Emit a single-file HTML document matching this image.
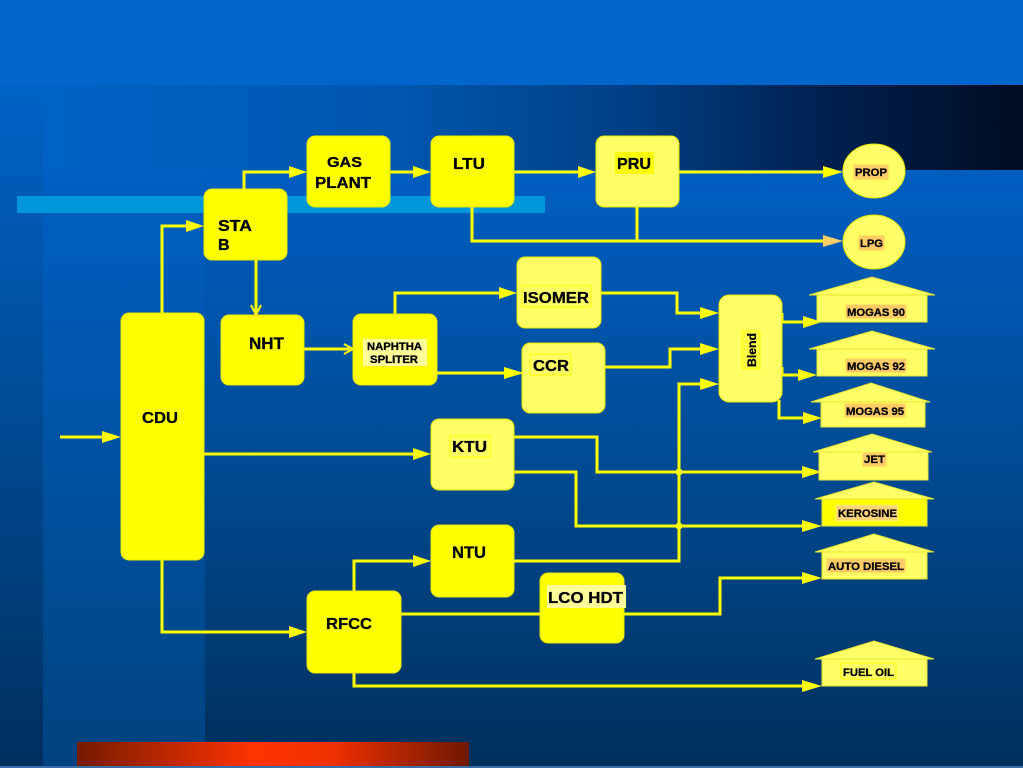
<!DOCTYPE html>
<html><head><meta charset="utf-8"><style>
html,body{margin:0;padding:0;background:#0066cc;}
svg{display:block;}
text{font-family:"Liberation Sans",Arial,sans-serif;font-weight:bold;fill:#000;stroke:#000;stroke-width:0.3px;}
</style></head><body>
<svg width="1023" height="768" viewBox="0 0 1023 768" xmlns="http://www.w3.org/2000/svg">
<defs>
<linearGradient id="band" x1="0" y1="0" x2="1" y2="0">
<stop offset="0" stop-color="#0062c6"/><stop offset="0.35" stop-color="#0057b0"/><stop offset="0.6" stop-color="#003f85"/><stop offset="0.8" stop-color="#002050"/><stop offset="1" stop-color="#000c22"/>
</linearGradient>
<linearGradient id="main" x1="0" y1="0" x2="0" y2="1">
<stop offset="0" stop-color="#005ec2"/><stop offset="0.5" stop-color="#004a93"/><stop offset="1" stop-color="#002f5c"/>
</linearGradient>
<linearGradient id="strip" x1="0" y1="0" x2="0" y2="1">
<stop offset="0" stop-color="#005fc3"/><stop offset="0.5" stop-color="#0052a2"/><stop offset="1" stop-color="#00427f"/>
</linearGradient>
<linearGradient id="left" x1="0" y1="0" x2="0" y2="1">
<stop offset="0" stop-color="#0062c6"/><stop offset="0.5" stop-color="#004a93"/><stop offset="1" stop-color="#002f5e"/>
</linearGradient>
<linearGradient id="red" x1="0" y1="0" x2="1" y2="0">
<stop offset="0" stop-color="#761a00"/><stop offset="0.45" stop-color="#ff3300"/><stop offset="0.65" stop-color="#f03000"/><stop offset="1" stop-color="#6e1800"/>
</linearGradient>
</defs>

<!-- background -->
<rect x="0" y="0" width="1023" height="85" fill="#0066cc"/>
<rect x="0" y="85" width="43" height="683" fill="url(#left)"/>
<rect x="43" y="85" width="980" height="85" fill="url(#band)"/>
<rect x="205" y="170" width="818" height="598" fill="url(#main)"/>
<rect x="43" y="170" width="162" height="598" fill="url(#strip)"/>
<rect x="17" y="196" width="528" height="17" fill="#0096dc"/>
<rect x="77" y="742" width="392" height="26" fill="url(#red)"/>
<rect x="0" y="766" width="1023" height="2" fill="#3a6ea8"/>

<!-- connectors -->
<g fill="none" stroke="#ffff00" stroke-width="3" stroke-linejoin="miter">
<path d="M60,437 H110"/>
<path d="M162,313 V226 H192"/>
<path d="M244,189 V172 H295"/>
<path d="M390,172 H420"/>
<path d="M514,172 H584"/>
<path d="M679,172 H830"/>
<path d="M472,207 V241 H830"/>
<path d="M637,207 V241"/>
<path d="M256,260 V312"/>
<path d="M304,349 H350"/>
<path d="M395,314 V293 H505"/>
<path d="M437,373 H510"/>
<path d="M601,293 H677 V313 H705"/>
<path d="M605,367 H670 V349 H705"/>
<path d="M514,561 H679 V384 H705"/>
<path d="M204,454 H418"/>
<path d="M514,437 H597 V472 H808"/>
<path d="M514,472 H576 V526 H808"/>
<path d="M162,560 V632 H294"/>
<path d="M354,591 V561 H418"/>
<path d="M401,614 H540"/>
<path d="M624,614 H720 V578 H808"/>
<path d="M354,673 V686 H808"/>
<path d="M782,313 V322 H808"/>
<path d="M782,367 V375 H805"/>
<path d="M779,400 V418 H808"/>
</g>
<g fill="#ffff00">
<polygon points="102,431 121,437 102,443"/>
<polygon points="186,220 204,226 186,232"/>
<polygon points="289,166 307,172 289,178"/>
<polygon points="413,166 431,172 413,178"/>
<polygon points="578,166 596,172 578,178"/>
<polygon points="823,166 843,172 823,178"/>
<polygon points="499,287 517,293 499,299"/>
<polygon points="504,367 524,373 504,379"/>
<polygon points="700,307 719,313 700,319"/>
<polygon points="700,343 719,349 700,355"/>
<polygon points="700,378 719,384 700,390"/>
<polygon points="413,448 431,454 413,460"/>
<polygon points="802,466 822,472 802,478"/>
<polygon points="802,520 822,526 802,532"/>
<polygon points="289,626 307,632 289,638"/>
<polygon points="413,555 431,561 413,567"/>
<polygon points="802,572 822,578 802,584"/>
<polygon points="802,680 822,686 802,692"/>
<polygon points="803,316 822,322 803,328"/>
<polygon points="798,369 817,375 798,381"/>
<polygon points="803,412 822,418 803,424"/>
<circle cx="679" cy="472" r="3.5"/>
<circle cx="679" cy="526" r="3.5"/>
</g>
<polygon points="823,235 843,241 823,247" fill="#ffcc66"/>
<g fill="none" stroke="#ffff00" stroke-width="2">
<polyline points="251,305 256,315 261,305"/>
<polyline points="344,344 353,349 344,354"/>
</g>

<!-- nodes -->
<g stroke="#e8e800" stroke-width="1">
<rect x="121" y="313" width="83" height="247" rx="8" fill="#ffff00"/>
<rect x="204" y="189" width="83" height="71" rx="8" fill="#ffff00"/>
<rect x="307" y="136" width="83" height="71" rx="8" fill="#ffff00"/>
<rect x="431" y="136" width="83" height="71" rx="8" fill="#ffff00"/>
<rect x="596" y="136" width="83" height="71" rx="8" fill="#ffff66"/>
<rect x="221" y="315" width="83" height="70" rx="8" fill="#ffff00"/>
<rect x="353" y="314" width="84" height="71" rx="8" fill="#ffff00"/>
<rect x="517" y="257" width="84" height="71" rx="8" fill="#ffff66"/>
<rect x="522" y="343" width="83" height="70" rx="8" fill="#ffff66"/>
<rect x="431" y="419" width="83" height="71" rx="8" fill="#ffff66"/>
<rect x="431" y="525" width="83" height="72" rx="8" fill="#ffff00"/>
<rect x="307" y="591" width="94" height="82" rx="8" fill="#ffff00"/>
<rect x="540" y="573" width="84" height="70" rx="8" fill="#ffff00"/>
<rect x="719" y="295" width="63" height="107" rx="10" fill="#ffff66"/>
<ellipse cx="874" cy="171" rx="31" ry="27" fill="#ffff66"/>
<ellipse cx="874" cy="242" rx="31" ry="27" fill="#ffff66"/>
</g>

<!-- houses -->
<g stroke="#e6e633" stroke-width="1" fill="#ffff66">
<polygon points="809,295 872,277 935,295"/><rect x="817" y="295" width="110" height="27"/>
<polygon points="809,349 872,331 935,349"/><rect x="817" y="349" width="110" height="27"/>
<polygon points="811,402 871,383 930,402"/><rect x="821" y="402" width="104" height="25"/>
<polygon points="813,452 872,434 932,452"/><rect x="819" y="452" width="109" height="28"/>
<polygon points="815,499 874,482 934,499"/><rect x="822" y="499" width="105" height="27" fill="#ffff00"/>
<polygon points="815,552 874,534 934,552"/><rect x="822" y="552" width="105" height="27"/>
<polygon points="815,659 874,641 934,659"/><rect x="822" y="659" width="105" height="27"/>
</g>

<!-- label highlights -->
<rect x="615" y="152" width="39" height="22" fill="#ffff00"/>
<rect x="853" y="164" width="36" height="16" fill="#ffcc66" stroke="#ffff55" stroke-width="1"/>
<rect x="858" y="235" width="27" height="16" fill="#ffcc66" stroke="#ffff55" stroke-width="1"/>
<rect x="363" y="339" width="64" height="27" fill="#ffff99"/>
<rect x="522" y="286" width="69" height="21" fill="#ffff66" stroke="#ffff00" stroke-width="1"/>
<rect x="530" y="354" width="41" height="21" fill="#ffff66" stroke="#ffff00" stroke-width="1"/>
<rect x="450" y="436" width="40" height="21" fill="#ffff66" stroke="#ffff00" stroke-width="1"/>
<rect x="547" y="585" width="79" height="23" fill="#ffff99"/>
<rect x="742" y="331" width="18" height="38" fill="#ffff44" stroke="#ffff00" stroke-width="1"/>
<g fill="#ffcc66" stroke="#ffff55" stroke-width="1">
<rect x="845" y="304" width="62" height="15"/>
<rect x="845" y="358" width="62" height="15"/>
<rect x="844" y="403" width="62" height="15"/>
<rect x="862" y="452" width="25" height="15"/>
<rect x="836" y="505" width="62" height="16" fill="#ffd477"/>
<rect x="826" y="558" width="80" height="15"/>
</g>
<rect x="841" y="663" width="55" height="16" fill="#ffff66" stroke="#ffff00" stroke-width="1"/>

<!-- labels -->
<text x="142" y="423" font-size="16" textLength="36" lengthAdjust="spacingAndGlyphs">CDU</text>
<text x="218" y="231" font-size="16" textLength="34" lengthAdjust="spacingAndGlyphs">STA</text>
<text x="218" y="250" font-size="16">B</text>
<text x="327" y="167" font-size="15" textLength="35" lengthAdjust="spacingAndGlyphs">GAS</text>
<text x="315" y="188" font-size="16" textLength="56" lengthAdjust="spacingAndGlyphs">PLANT</text>
<text x="453" y="169" font-size="16" textLength="32" lengthAdjust="spacingAndGlyphs">LTU</text>
<text x="617" y="169" font-size="16" textLength="34" lengthAdjust="spacingAndGlyphs">PRU</text>
<text x="855" y="176" font-size="11" textLength="32" lengthAdjust="spacingAndGlyphs">PROP</text>
<text x="860" y="247" font-size="11" textLength="23" lengthAdjust="spacingAndGlyphs">LPG</text>
<text x="249" y="349" font-size="17" textLength="35" lengthAdjust="spacingAndGlyphs">NHT</text>
<text x="367" y="350" font-size="11" textLength="55" lengthAdjust="spacingAndGlyphs">NAPHTHA</text>
<text x="370" y="363" font-size="11" textLength="48" lengthAdjust="spacingAndGlyphs">SPLITER</text>
<text x="523" y="303" font-size="16" textLength="66" lengthAdjust="spacingAndGlyphs">ISOMER</text>
<text x="533" y="371" font-size="16" textLength="36" lengthAdjust="spacingAndGlyphs">CCR</text>
<text x="452" y="452" font-size="16" textLength="35" lengthAdjust="spacingAndGlyphs">KTU</text>
<text x="452" y="558" font-size="17" textLength="34" lengthAdjust="spacingAndGlyphs">NTU</text>
<text x="326" y="629" font-size="16" textLength="46" lengthAdjust="spacingAndGlyphs">RFCC</text>
<text x="548" y="603" font-size="16" textLength="75" lengthAdjust="spacingAndGlyphs">LCO HDT</text>
<text transform="translate(756,367) rotate(-90)" font-size="12" textLength="34" lengthAdjust="spacingAndGlyphs">Blend</text>
<text x="847" y="316" font-size="11" textLength="58" lengthAdjust="spacingAndGlyphs">MOGAS 90</text>
<text x="847" y="370" font-size="11" textLength="58" lengthAdjust="spacingAndGlyphs">MOGAS 92</text>
<text x="846" y="415" font-size="11" textLength="58" lengthAdjust="spacingAndGlyphs">MOGAS 95</text>
<text x="864" y="463" font-size="11" textLength="21" lengthAdjust="spacingAndGlyphs">JET</text>
<text x="838" y="517" font-size="11" textLength="59" lengthAdjust="spacingAndGlyphs">KEROSINE</text>
<text x="828" y="570" font-size="11" textLength="76" lengthAdjust="spacingAndGlyphs">AUTO DIESEL</text>
<text x="843" y="676" font-size="11" textLength="51" lengthAdjust="spacingAndGlyphs">FUEL OIL</text>
</svg>
</body></html>
